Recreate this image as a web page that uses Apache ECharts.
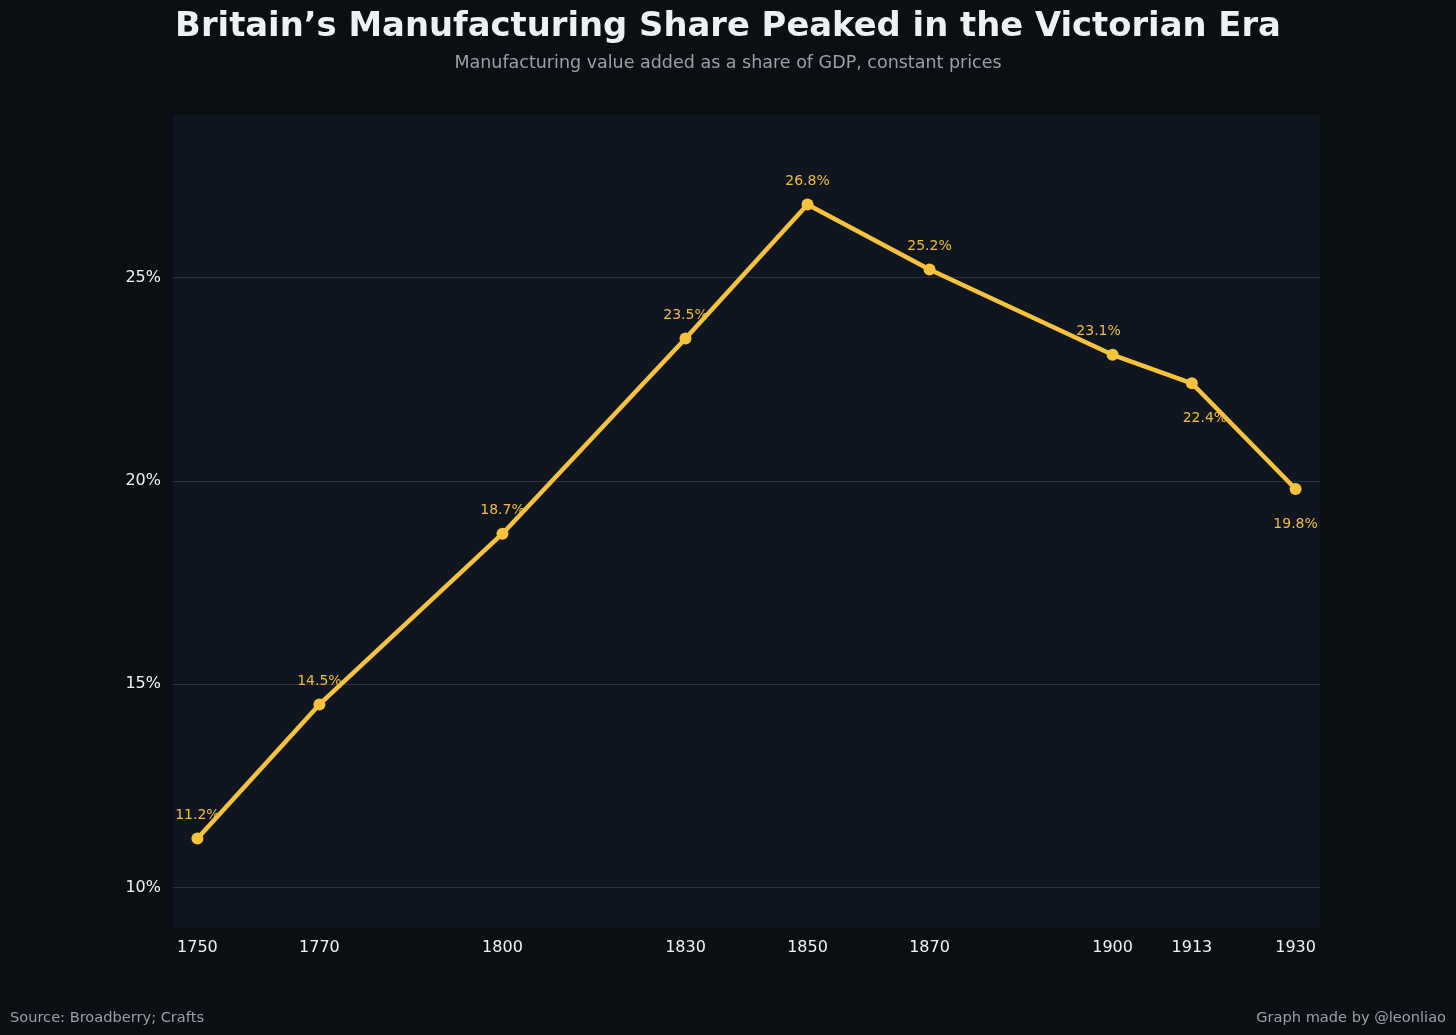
<!DOCTYPE html>
<html>
<head>
<meta charset="utf-8">
<script src="https://cdn.jsdelivr.net/npm/echarts@6/dist/echarts.min.js"></script>
<style>
  html, body { margin: 0; padding: 0; background: #0b0e12; }
  #main { width: 1456px; height: 1035px; }
</style>
</head>
<body>
<div id="main"></div>
<script>
// data
var years = [1750, 1770, 1800, 1830, 1850, 1870, 1900, 1913, 1930];
var share = [11.2, 14.5, 18.7, 23.5, 26.8, 25.2, 23.1, 22.4, 19.8];
var belowYears = [1913, 1930];          // labels drawn under the point
var yTicks = [10, 15, 20, 25];

var font = 'DejaVu Sans';
var gold = '#f7c33f';

// small sideways nudges so neighbouring labels do not collide
var nudge = { 1900: -14, 1913: 13 };

var points = years.map(function (y, i) {
  var below = belowYears.indexOf(y) >= 0;
  return {
    value: [y, share[i]],
    label: {
      position: below ? 'bottom' : 'top',
      distance: below ? 22 : 10,
      offset: [nudge[y] || 0, 0]
    }
  };
});

var chart = echarts.init(document.getElementById('main'));
chart.setOption({
  backgroundColor: '#0b0e12',
  animation: false,
  title: [{
    text: 'Britain\u2019s Manufacturing Share Peaked in the Victorian Era',
    left: 'center', top: 5,
    textStyle: { color: '#eef0f2', fontFamily: font, fontSize: 33.8, fontWeight: 'bold' }
  }, {
    text: 'Manufacturing value added as a share of GDP, constant prices',
    left: 'center', top: 49,
    textStyle: { color: '#9aa0a8', fontFamily: font, fontSize: 17.5, fontWeight: 'normal' }
  }, {
    text: 'Source: Broadberry; Crafts',
    left: 5, top: 1006,
    textStyle: { color: '#9aa0a8', fontFamily: font, fontSize: 14.6, fontWeight: 'normal' }
  }, {
    text: 'Graph made by @leonliao',
    right: 5, top: 1006,
    textStyle: { color: '#9aa0a8', fontFamily: font, fontSize: 14.6, fontWeight: 'normal' }
  }],
  grid: {
    left: 173, top: 115, width: 1147, height: 813,
    show: true, backgroundColor: '#10161f', borderWidth: 0
  },
  xAxis: {
    type: 'value', min: 1746, max: 1934,
    axisLine: { show: false },
    axisTick: { show: false },
    splitLine: { show: false },
    axisLabel: {
      customValues: years,
      color: '#f2f2f2', fontFamily: font, fontSize: 16, margin: 12,
      formatter: function (v) { return String(v); }
    }
  },
  yAxis: {
    type: 'value', min: 9, max: 29,
    axisLine: { show: false },
    axisTick: { show: false },
    splitLine: { show: false },
    axisLabel: {
      customValues: yTicks,
      color: '#f2f2f2', fontFamily: font, fontSize: 16, margin: 12,
      formatter: function (v) { return v + '%'; }
    }
  },
  series: [{
    type: 'line',
    data: points,
    symbol: 'circle',
    symbolSize: 12,
    z: 3,
    lineStyle: { color: gold, width: 4.5 },
    itemStyle: { color: gold },
    label: {
      show: true, color: '#f0bd3c', fontFamily: font, fontSize: 14,
      formatter: function (p) { return p.value[1].toFixed(1) + '%'; }
    },
    markLine: {
      silent: true, symbol: 'none', z: 1,
      label: { show: false },
      lineStyle: { color: '#2a323d', width: 1, type: 'solid' },
      data: yTicks.map(function (t) { return { yAxis: t }; })
    }
  }]
});
</script>
</body>
</html>
